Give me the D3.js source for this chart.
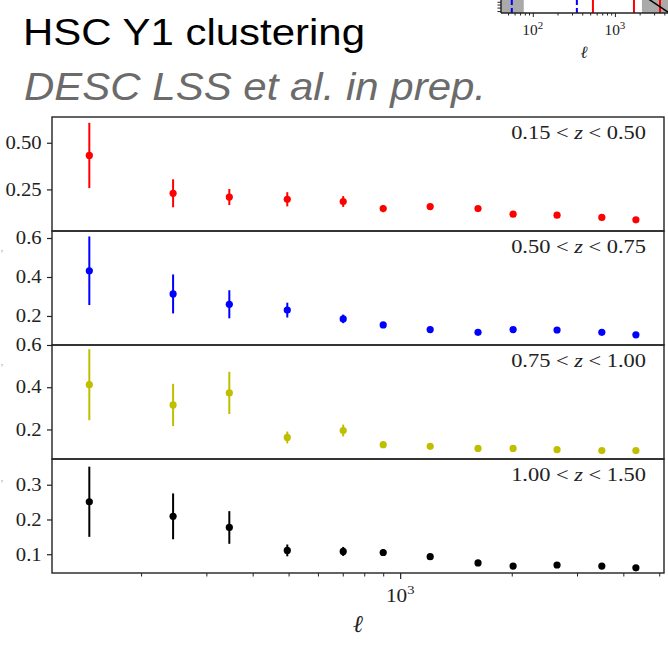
<!DOCTYPE html>
<html><head><meta charset="utf-8">
<script src="https://cdn.jsdelivr.net/npm/d3@7"></script>
<style>body{margin:0;background:#fff;} svg{display:block;background:#fff;}</style>
</head><body><svg id="chart" width="668" height="645"></svg>
<script>
// ---- data ----
const ells = [145, 244, 346, 496, 702, 900, 1205, 1622, 2017, 2650, 3500, 4325];
const binLo = ["0.15", "0.50", "0.75", "1.00"];
const binHi = ["0.50", "0.75", "1.00", "1.50"];
const cl1 = [0.432, 0.229, 0.209, 0.197, 0.185, 0.147, 0.158, 0.147, 0.117, 0.112, 0.100, 0.087];
const err1 = [0.175, 0.075, 0.043, 0.038, 0.029, 0.019, 0.012, 0.011, 0.008, 0.007, 0.006, 0.005];
const cl2 = [0.432, 0.313, 0.260, 0.230, 0.185, 0.154, 0.130, 0.116, 0.130, 0.128, 0.116, 0.103];
const err2 = [0.176, 0.100, 0.072, 0.038, 0.022, 0.013, 0.008, 0.007, 0.006, 0.006, 0.005, 0.005];
const cl3 = [0.412, 0.316, 0.373, 0.162, 0.195, 0.128, 0.120, 0.110, 0.110, 0.104, 0.100, 0.100];
const err3 = [0.168, 0.100, 0.100, 0.028, 0.028, 0.012, 0.008, 0.007, 0.006, 0.006, 0.005, 0.005];
const cl4 = [0.251, 0.209, 0.177, 0.111, 0.108, 0.105, 0.093, 0.075, 0.066, 0.069, 0.066, 0.061];
const err4 = [0.101, 0.066, 0.047, 0.017, 0.013, 0.010, 0.006, 0.005, 0.004, 0.004, 0.004, 0.004];
const yDomains = [[0.027, 0.638], [0.051, 0.636], [0.06, 0.6], [0.046, 0.374]];
const yTicks = [[0.25, 0.50], [0.2, 0.4, 0.6], [0.2, 0.4, 0.6], [0.1, 0.2, 0.3]];
const yTickFormats = [".2f", ".1f", ".1f", ".1f"];
const xMajor = [1000];
const xMinor = [200, 300, 400, 500, 600, 700, 800, 900, 2000, 3000, 4000, 5000];
// inset (cut-off panel, top right)
const insetGray = [[41, 77.6], [2134, 6000]];
const insetBlueDashed = [55.5, 344];
const insetRed = [540, 1706, 3540];
const insetModelL = [2400, 5000];
const insetModelC = [1.18e-7, 6.04e-8];
const insetXMajor = [100, 1000];
const insetXMinor = [50, 60, 70, 80, 90, 200, 300, 400, 500, 600, 700, 800, 900, 2000, 3000, 4000];
const insetYTicks = [7e-8, 8e-8, 9e-8, 1e-7];

const series = [cl1, cl2, cl3, cl4];
const errors = [err1, err2, err3, err4];
const colors = ["#ff0000", "#0000ff", "#bfbf00", "#000000"];

const svg = d3.select("#chart");
const serif = "'Liberation Serif','DejaVu Serif',serif";
const sans = "'Liberation Sans',Arial,sans-serif";
const ink = "#222";

// ---- titles ----
svg.append("text").attr("x", 23).attr("y", 45)
  .attr("font-family", sans).attr("font-size", 37).attr("fill", "#000")
  .attr("textLength", 342).attr("lengthAdjust", "spacingAndGlyphs")
  .text("HSC Y1 clustering");
svg.append("text").attr("x", 24).attr("y", 100)
  .attr("font-family", sans).attr("font-size", 38).attr("font-style", "italic").attr("fill", "#6b6b6b")
  .attr("textLength", 462).attr("lengthAdjust", "spacingAndGlyphs")
  .text("DESC LSS et al. in prep.");

// ---- main panels ----
const left = 52, right = 664, top0 = 117, bottom = 573;
const panelH = (bottom - top0) / 4;
const x = d3.scaleLog().domain([115, 5150]).range([left, right]);

series.forEach((vals, i) => {
  const top = top0 + i * panelH;
  const y = d3.scaleLinear().domain(yDomains[i]).range([top + panelH, top]);
  const g = svg.append("g");
  const errs = errors[i];
  // error bars
  g.selectAll("line.err").data(vals).join("line").attr("class", "err")
    .attr("x1", (d, k) => x(ells[k])).attr("x2", (d, k) => x(ells[k]))
    .attr("y1", (d, k) => y(d - errs[k])).attr("y2", (d, k) => y(d + errs[k]))
    .attr("stroke", colors[i]).attr("stroke-width", 2);
  g.selectAll("circle").data(vals).join("circle")
    .attr("cx", (d, k) => x(ells[k])).attr("cy", d => y(d)).attr("r", 3.6)
    .attr("fill", colors[i]);
  // y axis
  const ax = svg.append("g").attr("transform", `translate(${left},0)`)
    .call(d3.axisLeft(y).tickValues(yTicks[i]).tickSize(5).tickPadding(4).tickFormat(d3.format(yTickFormats[i])));
  ax.select(".domain").remove();
  ax.selectAll(".tick line").attr("stroke", ink).attr("stroke-width", 1.2);
  ax.selectAll(".tick text").attr("font-family", serif).attr("font-size", 18).attr("fill", ink)
    .attr("transform", "scale(1.15,1)");
  // frame
  svg.append("rect").attr("x", left).attr("y", top).attr("width", right - left).attr("height", panelH)
    .attr("fill", "none").attr("stroke", ink).attr("stroke-width", 1.4);
  // bin label
  const lab = svg.append("text")
    .attr("transform", `translate(646,${top + 22}) scale(1.15,1)`)
    .attr("text-anchor", "end").attr("font-family", serif).attr("font-size", 19.5).attr("fill", ink);
  lab.append("tspan").text(binLo[i] + " < ");
  lab.append("tspan").attr("font-style", "italic").text("z");
  lab.append("tspan").text(" < " + binHi[i]);
});

// bottom x axis
const xMaj = svg.append("g").attr("transform", `translate(0,${bottom})`)
  .call(d3.axisBottom(x).tickValues(xMajor).tickSize(6).tickFormat(""));
xMaj.select(".domain").remove();
xMaj.selectAll(".tick line").attr("stroke", ink).attr("stroke-width", 1.2);
const xMin = svg.append("g").attr("transform", `translate(0,${bottom})`)
  .call(d3.axisBottom(x).tickValues(xMinor).tickSize(3.5).tickFormat(""));
xMin.select(".domain").remove();
xMin.selectAll(".tick line").attr("stroke", ink).attr("stroke-width", 1);
xMajor.forEach(v => {
  const t = svg.append("text").attr("transform", `translate(${x(v)},602) scale(1.12,1)`)
    .attr("text-anchor", "middle").attr("font-family", serif).attr("font-size", 19).attr("fill", ink);
  t.append("tspan").text("10");
  t.append("tspan").attr("font-size", 13).attr("dy", -8).text(Math.round(Math.log10(v)));
});
svg.append("text").attr("x", 358).attr("y", 632).attr("text-anchor", "middle")
  .attr("font-family", serif).attr("font-style", "italic").attr("font-size", 24).attr("fill", ink).text("ℓ");

// left-edge remnants of cut-off y labels
[253, 367, 483].forEach(yy => {
  svg.append("text").attr("x", 0).attr("y", yy + 4).attr("font-family", serif)
    .attr("font-size", 11).attr("fill", "#aaa").text("’");
});

// ---- inset (cut-off panel) ----
const iL = 501, iR = 668, iB = 13;
const ix = d3.scaleLog().domain([41, 4430]).range([iL, iR]);
const iy = d3.scaleLog().domain([6.5e-8, 6.5e-7]).range([iB, iB - 60]);
svg.append("clipPath").attr("id", "insetClip").append("rect")
  .attr("x", iL).attr("y", 0).attr("width", iR - iL).attr("height", iB);
const ig = svg.append("g").attr("clip-path", "url(#insetClip)");
ig.selectAll("rect.gray").data(insetGray).join("rect").attr("class", "gray")
  .attr("x", d => ix(d[0])).attr("width", d => ix(d[1]) - ix(d[0]))
  .attr("y", 0).attr("height", iB).attr("fill", "#aaaaaa");
ig.selectAll("line.blue").data(insetBlueDashed).join("line").attr("class", "blue")
  .attr("x1", d => ix(d)).attr("x2", d => ix(d)).attr("y1", 0).attr("y2", iB)
  .attr("stroke", "#0000ff").attr("stroke-width", 2).attr("stroke-dasharray", "5,3");
ig.selectAll("line.red").data(insetRed).join("line").attr("class", "red")
  .attr("x1", d => ix(d)).attr("x2", d => ix(d)).attr("y1", 0).attr("y2", iB)
  .attr("stroke", "#ff0000").attr("stroke-width", 2);
ig.append("path").datum(insetModelL.map((l, k) => [l, insetModelC[k]]))
  .attr("d", d3.line().x(d => ix(d[0])).y(d => iy(d[1])))
  .attr("stroke", "#000").attr("stroke-width", 1.5).attr("fill", "none");
// inset axes
const ixMaj = svg.append("g").attr("transform", `translate(0,${iB})`)
  .call(d3.axisBottom(ix).tickValues(insetXMajor).tickSize(4).tickFormat(""));
ixMaj.select(".domain").remove();
ixMaj.selectAll(".tick line").attr("stroke", ink);
const ixMin = svg.append("g").attr("transform", `translate(0,${iB})`)
  .call(d3.axisBottom(ix).tickValues(insetXMinor).tickSize(2.5).tickFormat(""));
ixMin.select(".domain").remove();
ixMin.selectAll(".tick line").attr("stroke", ink);
const iyAx = svg.append("g").attr("transform", `translate(${iL},0)`)
  .call(d3.axisLeft(iy).tickValues(insetYTicks).tickSize(3.5).tickFormat(""));
iyAx.select(".domain").remove();
iyAx.selectAll(".tick line").attr("stroke", ink);
svg.append("line").attr("x1", iL).attr("x2", iR).attr("y1", iB).attr("y2", iB).attr("stroke", ink).attr("stroke-width", 1.4);
svg.append("line").attr("x1", iL).attr("x2", iL).attr("y1", 0).attr("y2", iB).attr("stroke", ink).attr("stroke-width", 1.4);
insetXMajor.forEach(v => {
  const t = svg.append("text").attr("transform", `translate(${ix(v)},35) scale(1.1,1)`)
    .attr("text-anchor", "middle").attr("font-family", serif).attr("font-size", 14).attr("fill", ink);
  t.append("tspan").text("10");
  t.append("tspan").attr("font-size", 10).attr("dy", -6).text(Math.round(Math.log10(v)));
});
svg.append("text").attr("x", 584).attr("y", 58).attr("text-anchor", "middle")
  .attr("font-family", serif).attr("font-style", "italic").attr("font-size", 17).attr("fill", ink).text("ℓ");
</script></body></html>
